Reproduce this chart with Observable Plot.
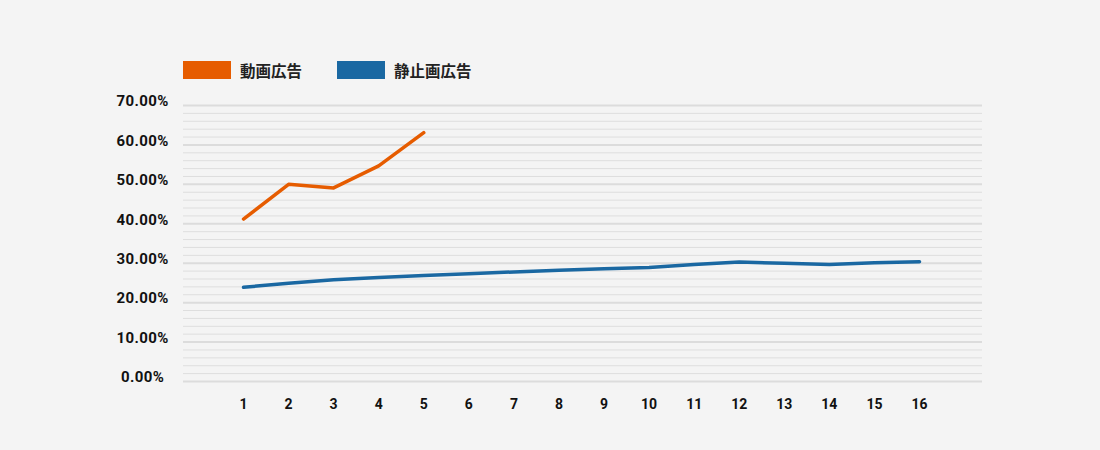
<!DOCTYPE html>
<html>
<head>
<meta charset="utf-8">
<script src="https://cdn.jsdelivr.net/npm/d3@7"></script>
<script src="https://cdn.jsdelivr.net/npm/@observablehq/plot@0.6"></script>
<style>
  html, body { margin: 0; padding: 0; background: #f4f4f4; }
  #wrap { width: 1100px; height: 450px; background: #f4f4f4; }
  #legend { height: 90px; box-sizing: border-box; padding-left: 183px; padding-top: 61px; display: flex; align-items: flex-start; font-family: "Noto Sans CJK JP", sans-serif; font-weight: 700; font-size: 15.5px; color: #222; }
  .item { display: flex; align-items: center; margin-right: 35px; height: 18px; }
  .sw { width: 48px; height: 18px; margin-right: 9px; }
  svg { display: block; }
  .yax text { font-size: 15px; letter-spacing: 0.4px; }
</style>
</head>
<body>
<div id="wrap">
  <div id="legend"></div>
  <div id="chart"></div>
</div>
<script>
// Data
const seriesNames = ["動画広告", "静止画広告"];
const seriesColors = ["#e65c00", "#1a68a2"];
const xLabels = [1, 2, 3, 4, 5, 6, 7, 8, 9, 10, 11, 12, 13, 14, 15, 16];
const videoAds = [41.2, 50.0, 49.1, 54.7, 63.1];
const staticAds = [23.9, 24.9, 25.8, 26.4, 26.9, 27.3, 27.8, 28.2, 28.6, 28.9, 29.7, 30.3, 30.0, 29.7, 30.1, 30.4];
const yMajorTicks = [0, 10, 20, 30, 40, 50, 60, 70];
const yMinorTicks = d3.range(0, 71, 2).filter(v => v % 10 !== 0);

// Legend
const legend = document.getElementById("legend");
seriesNames.forEach((name, i) => {
  const it = document.createElement("div");
  it.className = "item";
  const sw = document.createElement("div");
  sw.className = "sw";
  sw.style.background = seriesColors[i];
  const tx = document.createElement("span");
  tx.textContent = name;
  it.appendChild(sw);
  it.appendChild(tx);
  legend.appendChild(it);
});

const rows = [];
videoAds.forEach((v, i) => rows.push({series: seriesNames[0], x: xLabels[i], y: v}));
staticAds.forEach((v, i) => rows.push({series: seriesNames[1], x: xLabels[i], y: v}));

const chart = Plot.plot({
  width: 1100,
  height: 360,
  marginLeft: 183,
  marginRight: 118,
  marginTop: 15,
  marginBottom: 69,
  style: {background: "transparent", fontFamily: "Roboto, sans-serif", fontSize: "14px", fontWeight: 700, color: "#111"},
  x: {domain: [1, 16], insetLeft: 60, insetRight: 63, label: null},
  y: {domain: [0, 70], label: null},
  color: {domain: seriesNames, range: seriesColors},
  marks: [
    Plot.ruleY(yMinorTicks, {stroke: "#dedede", strokeWidth: 1}),
    Plot.ruleY(yMajorTicks, {stroke: "#dcdcdc", strokeWidth: 2}),
    Plot.axisY({ticks: yMajorTicks, tickSize: 0, tickPadding: 41, textAnchor: "middle", dy: -4, tickFormat: d => d.toFixed(2) + "%", fontWeight: 700, fill: "#111", className: "yax"}),
    Plot.axisX({ticks: xLabels, tickSize: 0, tickPadding: 18, tickFormat: d => String(d), fontWeight: 700, fill: "#111"}),
    Plot.line(rows, {x: "x", y: "y", z: "series", stroke: "series", strokeWidth: 3.5, strokeLinejoin: "round", strokeLinecap: "round"})
  ]
});
document.getElementById("chart").appendChild(chart);
</script>
</body>
</html>
